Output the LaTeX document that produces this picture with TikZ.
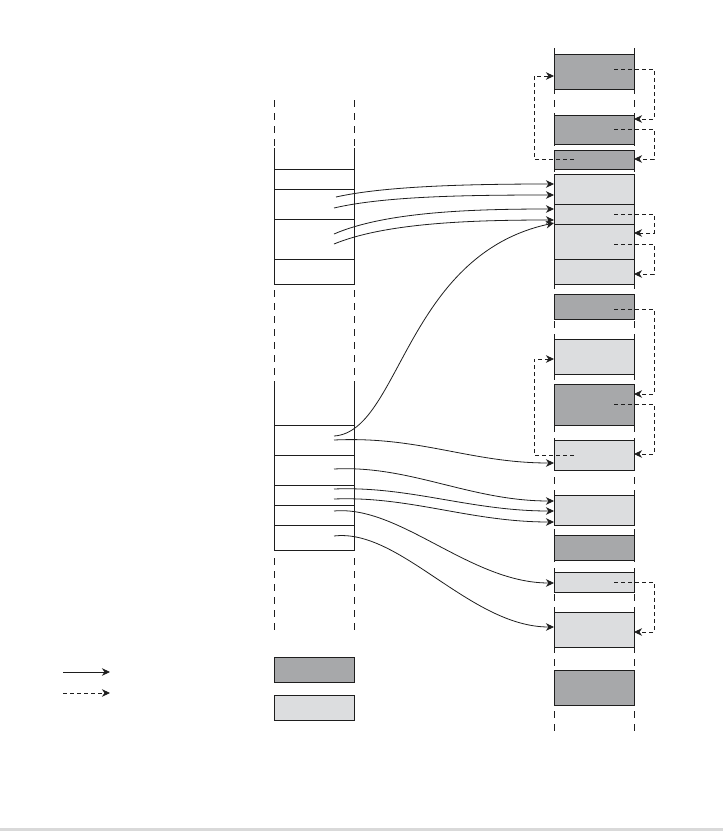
\documentclass[tikz,border=0pt]{standalone}
\usetikzlibrary{arrows.meta}
\definecolor{darkfill}{HTML}{A7A8AA}
\definecolor{lightfill}{HTML}{DCDDDF}
\definecolor{linec}{HTML}{1E1E1E}
\begin{document}
\begin{tikzpicture}[x=1pt,y=-1pt,
  rbox/.style={draw=linec,line width=1pt,inner sep=0pt,outer sep=0pt,minimum width=80pt},
  darkbox/.style={rbox,fill=darkfill},
  lightbox/.style={rbox,fill=lightfill},
  coldash/.style={draw=linec,line width=1pt,dash pattern=on 7pt off 6pt},
  colline/.style={draw=linec,line width=1pt},
  tip/.style={-{Stealth[length=8pt,width=7.5pt,inset=2.5pt]}},
  solidarr/.style={tip,draw=linec,line width=0.8pt},
  dasharr/.style={tip,draw=linec,line width=0.8pt,dash pattern=on 4pt off 3pt}]
\useasboundingbox (0,0) rectangle (723,831);
\fill[white] (0,0) rectangle (723,831);
\fill[black!15] (0,827.5) rectangle (723,831);

% right column guide lines
\path[coldash] (554,48) -- (554,733);
\path[coldash] (634,48) -- (634,733);

% right column boxes
\node[darkbox,minimum height=35pt] (r1) at (594,71.5) {};
\node[darkbox,minimum height=29pt] (r2) at (594,129.5) {};
\node[darkbox,minimum height=19pt] (r3) at (594,159.5) {};
\node[lightbox,minimum height=30pt] (r4) at (594,189) {};
\node[lightbox,minimum height=20pt] (r5) at (594,214) {};
\node[lightbox,minimum height=35pt] (r6) at (594,241.5) {};
\node[lightbox,minimum height=25pt] (r7) at (594,271.5) {};
\node[darkbox,minimum height=25pt] (r8) at (594,306.5) {};
\node[lightbox,minimum height=35pt] (r9) at (594,356.5) {};
\node[darkbox,minimum height=41pt] (r10) at (594,404.5) {};
\node[lightbox,minimum height=30pt] (r11) at (594,455) {};
\node[lightbox,minimum height=30pt] (r12) at (594,510) {};
\node[darkbox,minimum height=25pt] (r13) at (594,547.5) {};
\node[lightbox,minimum height=20pt] (r14) at (594,582) {};
\node[lightbox,minimum height=35pt] (r15) at (594,629.5) {};
\node[darkbox,minimum height=35pt] (r16) at (594,687.5) {};

% left column
\path[coldash] (274,100) -- (274,148);
\path[coldash] (354,100) -- (354,148);
\path[colline] (274,148) -- (274,284) -- (354,284) -- (354,148);
\foreach \yy in {169,189,219,259} \path[colline] (274,\yy) -- (354,\yy);
\path[coldash] (274,290) -- (274,385);
\path[coldash] (354,290) -- (354,385);
\path[colline] (274,385) -- (274,550) -- (354,550) -- (354,385);
\foreach \yy in {425,455,485,505,525} \path[colline] (274,\yy) -- (354,\yy);
\path[coldash] (274,558) -- (274,633);
\path[coldash] (354,558) -- (354,633);

% start points
\coordinate (s1) at (336,197);
\coordinate (s2) at (334,208);
\coordinate (s3) at (334,234);
\coordinate (s4) at (334,244);
\coordinate (s5) at (334,436);
\coordinate (s6) at (334,440);
\coordinate (s7) at (334,469);
\coordinate (s8) at (334,489);
\coordinate (s9) at (334,499);
\coordinate (s10) at (334,511);
\coordinate (s11) at (334,536);
% end points
\coordinate (e1) at (554,184);
\coordinate (e2) at (554,195);
\coordinate (e3) at (554,209);
\coordinate (e4) at (554,220);
\coordinate (e5) at (554,223);
\coordinate (e6) at (554,463);
\coordinate (e7) at (554,501);
\coordinate (e8) at (554,511);
\coordinate (e9) at (554,522);
\coordinate (e10) at (554,583);
\coordinate (e11) at (554,627);

\draw[solidarr] (s1) .. controls (385,186) and (470,184) .. (e1);
\draw[solidarr] (s2) .. controls (385,196) and (470,195) .. (e2);
\draw[solidarr] (s3) .. controls (385,212) and (470,209) .. (e3);
\draw[solidarr] (s4) .. controls (385,223) and (470,220) .. (e4);
\draw[solidarr] (s5) .. controls (400,432) and (405,255) .. (e5);
\draw[solidarr] (s6) .. controls (420,436) and (470,463) .. (e6);
\draw[solidarr] (s7) .. controls (410,465) and (470,501) .. (e7);
\draw[solidarr] (s8) .. controls (410,486) and (470,511) .. (e8);
\draw[solidarr] (s9) .. controls (410,496) and (470,522) .. (e9);
\draw[solidarr] (s10) .. controls (400,505) and (470,583) .. (e10);
\draw[solidarr] (s11) .. controls (400,528) and (470,627) .. (e11);

% dashed links
\coordinate (d1) at (614,69);   \coordinate (f1) at (634,119);
\coordinate (d2) at (614,129);  \coordinate (f2) at (634,159);
\coordinate (d3) at (574,159);  \coordinate (f3) at (554,76);
\coordinate (d4) at (614,214);  \coordinate (f4) at (634,233);
\coordinate (d5) at (614,244);  \coordinate (f5) at (634,274);
\coordinate (d6) at (614,309);  \coordinate (f6) at (634,394);
\coordinate (d7) at (614,404);  \coordinate (f7) at (634,454);
\coordinate (d8) at (574,455);  \coordinate (f8) at (554,359);
\coordinate (d9) at (614,582);  \coordinate (f9) at (634,632);

\draw[dasharr] (d1) -- (654,69) -- (654,119) -- (f1);
\draw[dasharr] (d2) -- (654,129) -- (654,159) -- (f2);
\draw[dasharr] (d3) -- (534,159) -- (534,76) -- (f3);
\draw[dasharr] (d4) -- (654,214) -- (654,233) -- (f4);
\draw[dasharr] (d5) -- (654,244) -- (654,274) -- (f5);
\draw[dasharr] (d6) -- (654,309) -- (654,394) -- (f6);
\draw[dasharr] (d7) -- (654,404) -- (654,454) -- (f7);
\draw[dasharr] (d8) -- (534,455) -- (534,359) -- (f8);
\draw[dasharr] (d9) -- (654,582) -- (654,632) -- (f9);

% legend
\coordinate (la) at (63,672); \coordinate (lb) at (110,672);
\coordinate (lc) at (63,693); \coordinate (ld) at (110,693);
\draw[solidarr] (la) -- (lb);
\draw[dasharr] (lc) -- (ld);
\node[darkbox,minimum height=25pt] (kd) at (314,669.5) {};
\node[lightbox,minimum height=25pt] (kl) at (314,707.5) {};
\end{tikzpicture}
\end{document}
